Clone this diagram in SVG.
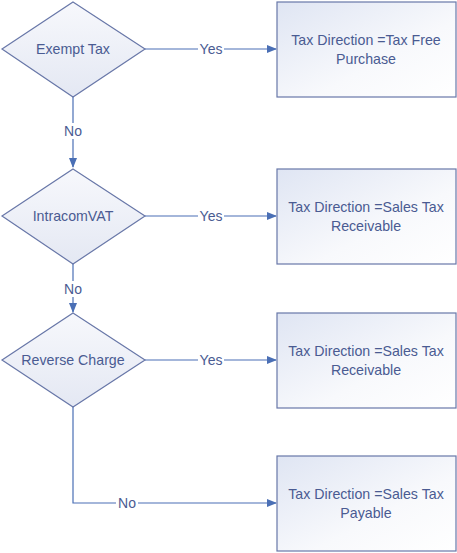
<svg xmlns="http://www.w3.org/2000/svg" width="457" height="553" viewBox="0 0 457 553">
<style>
.shape{stroke:#6877a8;stroke-width:1.2}
.txt{font-family:"Liberation Sans",Arial,sans-serif;font-size:14.2px;fill:#4a5b92;text-anchor:middle}
.conn{stroke:#4a6fb5;stroke-width:1.2;fill:none}
.lbl{font-family:"Liberation Sans",Arial,sans-serif;font-size:14px;fill:#4a5b92;text-anchor:middle}
.lblbg{fill:#ffffff}
</style>
<defs>
<linearGradient id="dg" x1="0" y1="0" x2="0" y2="1">
<stop offset="0" stop-color="#f7f8fc"/>
<stop offset="1" stop-color="#e4e8f3"/>
</linearGradient>
<linearGradient id="rg" x1="0" y1="0" x2="1" y2="1">
<stop offset="0" stop-color="#dfe5f3"/>
<stop offset="0.6" stop-color="#f8f9fc"/>
<stop offset="1" stop-color="#ffffff"/>
</linearGradient>
<marker id="ah" markerWidth="10" markerHeight="8" refX="9" refY="4" orient="auto" markerUnits="userSpaceOnUse">
<path d="M0,0 L10,4 L0,8 Z" fill="#4a6fb5"/>
</marker>
</defs>
<g id="connectors">
<path class="conn" d="M145,49 H276" marker-end="url(#ah)"/>
<path class="conn" d="M73,97 V167" marker-end="url(#ah)"/>
<path class="conn" d="M145,216 H276" marker-end="url(#ah)"/>
<path class="conn" d="M73,264 V312" marker-end="url(#ah)"/>
<path class="conn" d="M145,360 H276" marker-end="url(#ah)"/>
<path class="conn" d="M73,407 V503 H276" marker-end="url(#ah)"/>
<rect class="lblbg" x="198" y="41" width="26" height="16"/>
<text class="lbl" x="211" y="54">Yes</text>
<rect class="lblbg" x="62" y="123" width="22" height="16"/>
<text class="lbl" x="73" y="136">No</text>
<rect class="lblbg" x="198" y="208" width="26" height="16"/>
<text class="lbl" x="211" y="221">Yes</text>
<rect class="lblbg" x="62" y="281" width="22" height="16"/>
<text class="lbl" x="73" y="294">No</text>
<rect class="lblbg" x="198" y="352" width="26" height="16"/>
<text class="lbl" x="211" y="365">Yes</text>
<rect class="lblbg" x="116" y="495" width="22" height="16"/>
<text class="lbl" x="127" y="508">No</text>
</g>
<g id="exempt-tax">
<polygon class="shape" fill="url(#dg)" points="73,2 145,49 73,97 2,49"/>
<text class="txt" x="73" y="54">Exempt Tax</text>
</g>
<g id="tax-free-purchase">
<rect class="shape" fill="url(#rg)" x="277" y="2" width="179" height="95"/>
<text class="txt" x="366" y="45">Tax Direction =Tax Free</text>
<text class="txt" x="366" y="64">Purchase</text>
</g>
<g id="intracom-vat">
<polygon class="shape" fill="url(#dg)" points="73,169 145,216 73,264 2,216"/>
<text class="txt" x="73" y="221">IntracomVAT</text>
</g>
<g id="sales-tax-receivable-1">
<rect class="shape" fill="url(#rg)" x="277" y="169" width="179" height="95"/>
<text class="txt" x="366" y="212">Tax Direction =Sales Tax</text>
<text class="txt" x="366" y="231">Receivable</text>
</g>
<g id="reverse-charge">
<polygon class="shape" fill="url(#dg)" points="73,313 145,360 73,407 2,360"/>
<text class="txt" x="73" y="365">Reverse Charge</text>
</g>
<g id="sales-tax-receivable-2">
<rect class="shape" fill="url(#rg)" x="277" y="313" width="179" height="95"/>
<text class="txt" x="366" y="356">Tax Direction =Sales Tax</text>
<text class="txt" x="366" y="375">Receivable</text>
</g>
<g id="sales-tax-payable">
<rect class="shape" fill="url(#rg)" x="277" y="456" width="179" height="95"/>
<text class="txt" x="366" y="499">Tax Direction =Sales Tax</text>
<text class="txt" x="366" y="518">Payable</text>
</g>
</svg>
